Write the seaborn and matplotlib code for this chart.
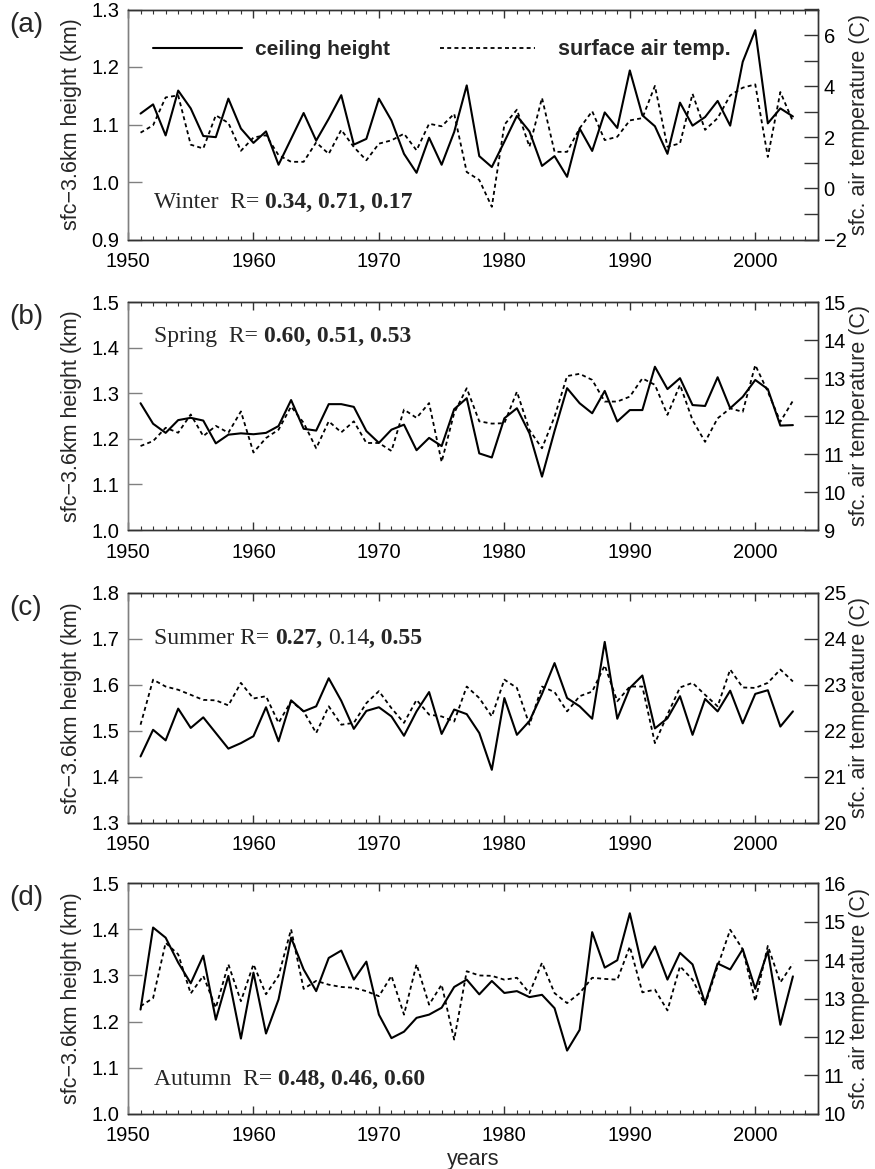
import matplotlib
matplotlib.use("Agg")
import matplotlib.pyplot as plt
import seaborn as sns
from matplotlib.ticker import MultipleLocator, FuncFormatter

# ---------------- data ----------------
years = list(range(1951, 2004))

winter_ceiling = [1.119, 1.135, 1.081, 1.159, 1.128, 1.080, 1.078, 1.145, 1.093, 1.068,
                  1.088, 1.030, 1.075, 1.120, 1.072, 1.110, 1.151, 1.065, 1.075, 1.145,
                  1.107, 1.049, 1.016, 1.077, 1.030, 1.087, 1.168, 1.045, 1.026, 1.070,
                  1.115, 1.088, 1.028, 1.045, 1.009, 1.093, 1.054, 1.121, 1.094, 1.194,
                  1.116, 1.097, 1.049, 1.138, 1.098, 1.113, 1.141, 1.098, 1.209, 1.264,
                  1.102, 1.128, 1.114]
winter_temp = [2.18, 2.47, 3.56, 3.64, 1.71, 1.56, 2.86, 2.56, 1.47, 1.99,
               2.08, 1.30, 1.04, 1.04, 1.80, 1.35, 2.29, 1.62, 1.10, 1.75,
               1.88, 2.14, 1.49, 2.53, 2.43, 2.92, 0.64, 0.33, -0.72, 2.49,
               3.08, 1.63, 3.54, 1.43, 1.43, 2.35, 3.02, 1.89, 2.02, 2.66,
               2.75, 4.01, 1.63, 1.76, 3.70, 2.29, 2.75, 3.64, 3.94, 4.07,
               1.23, 3.77, 2.62]

spring_ceiling = [1.278, 1.233, 1.213, 1.241, 1.246, 1.240, 1.190, 1.209, 1.212, 1.210,
                  1.213, 1.228, 1.285, 1.222, 1.218, 1.276, 1.276, 1.270, 1.217, 1.191,
                  1.220, 1.231, 1.175, 1.202, 1.184, 1.265, 1.289, 1.168, 1.159, 1.245,
                  1.267, 1.212, 1.117, 1.217, 1.311, 1.278, 1.256, 1.305, 1.238, 1.263,
                  1.263, 1.358, 1.309, 1.333, 1.274, 1.272, 1.335, 1.267, 1.292, 1.329,
                  1.309, 1.229, 1.230]
spring_temp = [11.21, 11.34, 11.69, 11.56, 12.04, 11.47, 11.74, 11.56, 12.12, 11.04,
               11.42, 11.64, 12.25, 11.82, 11.15, 11.86, 11.57, 11.86, 11.29, 11.29,
               11.08, 12.17, 11.95, 12.34, 10.79, 12.08, 12.73, 11.86, 11.80, 11.81,
               12.64, 11.63, 11.15, 11.98, 13.05, 13.11, 12.95, 12.38, 12.38, 12.51,
               12.99, 12.82, 12.03, 12.82, 11.89, 11.32, 11.94, 12.20, 12.11, 13.34,
               12.64, 11.85, 12.40]

summer_ceiling = [1.444, 1.502, 1.479, 1.548, 1.506, 1.529, 1.495, 1.461, 1.473, 1.488,
                  1.551, 1.477, 1.566, 1.542, 1.553, 1.614, 1.565, 1.504, 1.543, 1.551,
                  1.531, 1.489, 1.542, 1.584, 1.493, 1.546, 1.536, 1.495, 1.415, 1.571,
                  1.491, 1.521, 1.580, 1.647, 1.571, 1.553, 1.526, 1.693, 1.526, 1.593,
                  1.620, 1.505, 1.527, 1.575, 1.491, 1.569, 1.542, 1.587, 1.516, 1.580,
                  1.588, 1.509, 1.542]
summer_temp = [22.13, 23.11, 22.96, 22.89, 22.78, 22.67, 22.66, 22.55, 23.04, 22.70,
               22.75, 22.17, 22.64, 22.42, 21.95, 22.53, 22.13, 22.17, 22.60, 22.86,
               22.49, 22.17, 22.67, 22.35, 22.31, 22.20, 22.96, 22.71, 22.31, 23.11,
               22.93, 22.13, 22.96, 22.84, 22.42, 22.75, 22.85, 23.42, 22.64, 22.96,
               22.96, 21.73, 22.35, 22.94, 23.04, 22.78, 22.53, 23.33, 22.94, 22.93,
               23.04, 23.33, 23.07]

autumn_ceiling = [1.226, 1.404, 1.382, 1.328, 1.283, 1.343, 1.204, 1.299, 1.163, 1.306,
                  1.174, 1.248, 1.382, 1.313, 1.266, 1.338, 1.354, 1.291, 1.330, 1.215,
                  1.164, 1.178, 1.208, 1.215, 1.230, 1.275, 1.291, 1.259, 1.288, 1.262,
                  1.266, 1.253, 1.258, 1.229, 1.137, 1.182, 1.394, 1.317, 1.333, 1.435,
                  1.317, 1.363, 1.291, 1.349, 1.324, 1.240, 1.326, 1.313, 1.357, 1.271,
                  1.353, 1.193, 1.298]
autumn_temp = [12.80, 13.01, 14.45, 14.15, 13.13, 13.59, 12.76, 13.89, 12.93, 13.89,
               13.11, 13.59, 14.80, 13.25, 13.46, 13.36, 13.30, 13.28, 13.19, 13.06,
               13.59, 12.58, 13.89, 12.84, 13.36, 11.93, 13.71, 13.60, 13.59, 13.49,
               13.54, 13.14, 13.93, 13.14, 12.88, 13.14, 13.54, 13.51, 13.49, 14.35,
               13.16, 13.23, 12.69, 13.84, 13.49, 12.84, 13.84, 14.79, 14.28, 12.93,
               14.37, 13.42, 13.91]

panel_letters = ["(a)", "(b)", "(c)", "(d)"]
left_limits = [(0.9, 1.3), (1.0, 1.5), (1.3, 1.8), (1.0, 1.5)]
right_limits = [(-2, 7), (9, 15), (20, 25), (10, 16)]
right_label_step = [2, 1, 1, 1]
r_texts = [
    [("Winter  R= ", False), ("0.34, 0.71, 0.17", True)],
    [("Spring  R= ", False), ("0.60, 0.51, 0.53", True)],
    [("Summer R= ", False), ("0.27,", True), (" 0.14", False), (", 0.55", True)],
    [("Autumn  R= ", False), ("0.48, 0.46, 0.60", True)],
]
legend_labels = ["ceiling height", "surface air temp."]
left_ylabel = "sfc\u22123.6km height (km)"
right_ylabel = "sfc. air temperature (C)"
x_label = "years"

ceilings = [winter_ceiling, spring_ceiling, summer_ceiling, autumn_ceiling]
temps = [winter_temp, spring_temp, summer_temp, autumn_temp]

# ---------------- layout ----------------
W, H = 875, 1169
AX_L, AX_R = 128, 818
tops = [9.5, 302, 592.7, 883.3]
bottoms = [239.5, 530, 822.7, 1113.7]
text_baselines = [208, 342, 644, 1085]
TEXT_X = 154

sns.set_style("ticks")
plt.rcParams["font.family"] = ["Liberation Sans", "DejaVu Sans"]
plt.rcParams["axes.unicode_minus"] = True

fig = plt.figure(figsize=(W / 100, H / 100), dpi=100)
renderer = fig.canvas.get_renderer()

DARK = "#333333"
GREY = "#808080"
SERIF = ["Liberation Serif", "DejaVu Serif"]
dotted_style = (0, (2.2, 1.8))
TICK_FS = 14.5
LABEL_FS = 15.5


def text_width(s, **kw):
    t = fig.text(0, 0, s, **kw)
    w = t.get_window_extent(renderer=renderer).width
    t.remove()
    return w


def rich_text(x_px, y_px, pieces, size=17):
    x = x_px
    for s, bold in pieces:
        kw = dict(fontsize=size, fontweight="bold" if bold else "normal", family=SERIF)
        sp = text_width("a a", **kw) - text_width("aa", **kw)
        lead = len(s) - len(s.lstrip(" "))
        trail = len(s) - len(s.rstrip(" "))
        core = s.strip(" ")
        x += lead * sp
        t = fig.text(x / W, 1 - y_px / H, core, ha="left", va="baseline", **kw)
        bb = t.get_window_extent(renderer=renderer)
        x = bb.x1 + trail * sp


for i in range(4):
    rect = [AX_L / W, 1 - bottoms[i] / H, (AX_R - AX_L) / W, (bottoms[i] - tops[i]) / H]
    ax = fig.add_axes(rect)
    ax2 = ax.twinx()

    sns.lineplot(x=years, y=ceilings[i], ax=ax, color="black", linewidth=1.5,
                 legend=False, label=legend_labels[0])
    sns.lineplot(x=years, y=temps[i], ax=ax2, color="black", linewidth=1.3,
                 linestyle=dotted_style, legend=False, label=legend_labels[1])

    ax.set_xlim(1950, 2005)
    ax.set_ylim(*left_limits[i])
    ax2.set_ylim(*right_limits[i])

    ax.xaxis.set_major_locator(MultipleLocator(10))
    ax.xaxis.set_minor_locator(MultipleLocator(1))
    ax.yaxis.set_major_locator(MultipleLocator(0.1))
    ax.yaxis.set_major_formatter(FuncFormatter(lambda v, p: f"{v:.1f}"))
    ax2.yaxis.set_major_locator(MultipleLocator(1))
    step = right_label_step[i]
    hi = right_limits[i][1]
    lo = right_limits[i][0]

    def rfmt(v, p, step=step, lo=lo, hi=hi):
        n = int(round(v))
        if (n - lo) % step != 0 or (step > 1 and n == hi):
            return ""
        return f"{n}".replace("-", "\u2212")

    ax2.yaxis.set_major_formatter(FuncFormatter(rfmt))

    ax.tick_params(axis="x", which="major", direction="in", length=6, width=1,
                   top=True, bottom=True, labelsize=TICK_FS, pad=9, color=DARK,
                   labelcolor="black")
    ax.tick_params(axis="x", which="minor", direction="in", length=3, width=0.8,
                   top=True, bottom=True, color=DARK)
    ax.tick_params(axis="y", which="major", direction="in", length=10, width=1,
                   left=True, right=False, labelsize=TICK_FS, pad=6, color=GREY,
                   labelcolor="black")
    ax2.tick_params(axis="y", which="major", direction="in", length=10, width=1,
                    right=True, left=False, labelsize=TICK_FS, pad=4, color=DARK,
                    labelcolor="black")
    ax.set_xlabel("")
    for a in (ax, ax2):
        for name, sp in a.spines.items():
            sp.set_visible(True)
            sp.set_linewidth(1.0)
            sp.set_color(GREY if name == "left" else DARK)

    ax.set_ylabel(left_ylabel, fontsize=LABEL_FS)
    ax.yaxis.set_label_coords((82 - AX_L) / (AX_R - AX_L), 0.5)
    ax2.set_ylabel(right_ylabel, fontsize=LABEL_FS)
    ax2.yaxis.set_label_coords((849 - AX_L) / (AX_R - AX_L), 0.5)

    if i == 3:
        ax.set_xlabel(x_label, fontsize=LABEL_FS)
        ax.xaxis.set_label_coords(0.5, -0.155)

    if i == 0:
        h1 = ax.get_lines()[0]
        h2 = ax2.get_lines()[0]
        ax.legend([h1], [legend_labels[0]], loc="center left",
                  bbox_to_anchor=((152.7 - AX_L) / (AX_R - AX_L), 0.824),
                  frameon=False, borderpad=0, borderaxespad=0,
                  handlelength=4.3, handletextpad=0.6,
                  prop={"weight": "bold", "size": 15})
        ax2.legend([h2], [legend_labels[1]], loc="center left",
                   bbox_to_anchor=((440 - AX_L) / (AX_R - AX_L), 0.824),
                   frameon=False, borderpad=0, borderaxespad=0,
                   handlelength=4.4, handletextpad=1.1,
                   prop={"weight": "bold", "size": 15.5})

    fig.text(9 / W, 1 - (tops[i] + 15) / H, panel_letters[i], fontsize=20,
             ha="left", va="center")
    rich_text(TEXT_X, text_baselines[i], r_texts[i])

fig.savefig("out.png", dpi=100)
